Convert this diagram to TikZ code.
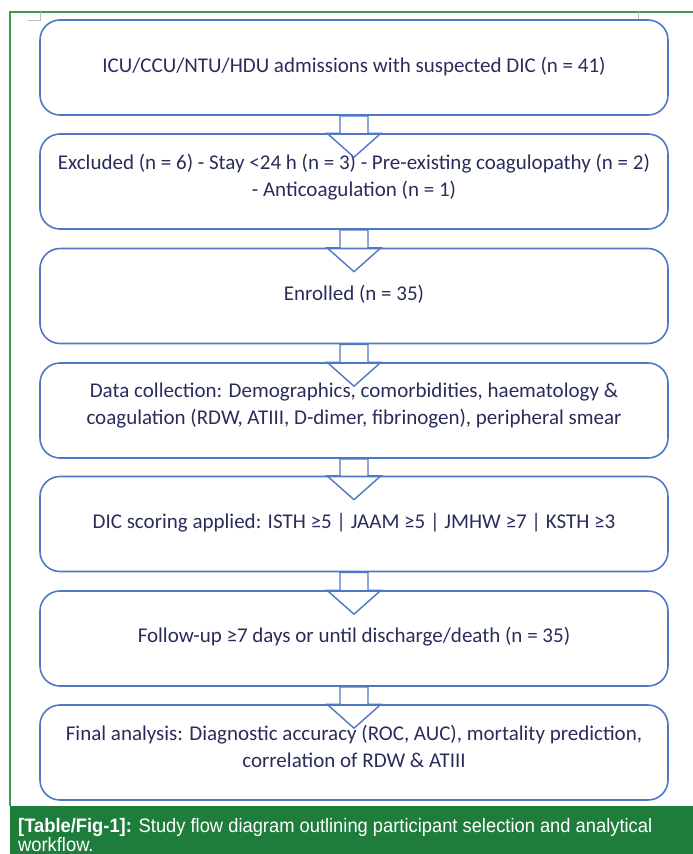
\documentclass[tikz,border=0pt]{standalone}
\usepackage{fontspec}
\setmainfont{Carlito}
\newfontfamily\capfont{Liberation Sans}
\usetikzlibrary{calc}
\definecolor{boxblue}{HTML}{4F78C4}
\definecolor{txtnavy}{HTML}{2A2D5C}
\definecolor{framegreen}{HTML}{3E9B50}
\definecolor{capgreen}{HTML}{1F7D3C}
\tikzset{
  flowbox/.style={draw=boxblue, line width=1.6pt, rounded corners=20pt, minimum width=628pt, minimum height=95pt, align=center, text=txtnavy, font=\fontsize{21}{27}\selectfont, inner sep=0pt},
  blockarrow/.style={draw=boxblue, line width=1.4pt, line join=miter},
  captext/.style={anchor=base west, text=white, inner sep=0pt, font=\capfont\fontsize{19.5}{22}\selectfont}
}
\begin{document}
\begin{tikzpicture}[x=1pt,y=-1pt]
\useasboundingbox (0,0) rectangle (693,854);
\fill[white] (0,0) rectangle (693,854);
% frame
\draw[framegreen, line width=1.2pt] (10,806) -- (10,12) -- (693,12);
\draw[gray!50, line width=0.5pt] (28,20) -- (40,20) -- (40,12);
\draw[gray!50, line width=0.5pt] (638,12) -- (638,20);
% boxes
\node[flowbox] (b1) at (354,67.5) {\raisebox{6pt}{ICU/CCU/NTU/HDU admissions with suspected DIC (n = 41)}};
\node[flowbox] (b2) at (354,181.5) {Excluded (n = 6) - Stay <24 h (n = 3) - Pre-existing coagulopathy (n = 2)\\- Anticoagulation (n = 1)\\[-14pt]};
\node[flowbox] (b3) at (354,296) {\raisebox{6pt}{Enrolled (n = 35)}};
\node[flowbox] (b4) at (354,410.5) {Data collection: Demographics, comorbidities, haematology \&\\coagulation (RDW, ATIII, D-dimer, fibrinogen), peripheral smear\\[-14pt]};
\node[flowbox] (b5) at (354,524) {\raisebox{6pt}{DIC scoring applied: ISTH ≥5 | JAAM ≥5 | JMHW ≥7 | KSTH ≥3}};
\node[flowbox] (b6) at (354,638.5) {\raisebox{7pt}{Follow-up ≥7 days or until discharge/death (n = 35)}};
\node[flowbox] (b7) at (354,752.5) {Final analysis: Diagnostic accuracy (ROC, AUC), mortality prediction,\\correlation of RDW \& ATIII\\[-14pt]};
% block arrows
\foreach \a/\b in {b1/b2,b2/b3,b3/b4,b4/b5,b5/b6,b6/b7}{
  \draw[blockarrow] ($(\a.south)+(-14,0)$) -- ($(\b.north)+(-14,0)$) -- ($(\b.north)+(-27,0)$)
     -- ($(\b.north)+(0,24)$) -- ($(\b.north)+(27,0)$) -- ($(\b.north)+(14,0)$) -- ($(\a.south)+(14,0)$) -- cycle;
}
% caption
\fill[capgreen] (10,806) rectangle (693,854);
\node[captext] (cap1) at (18,832) {\scalebox{0.94}[1]{\textbf{[Table/Fig-1]:} Study flow diagram outlining participant selection and analytical}};
\node[captext] (cap2) at (18,851) {\scalebox{0.94}[1]{workflow.}};
\end{tikzpicture}
\end{document}
